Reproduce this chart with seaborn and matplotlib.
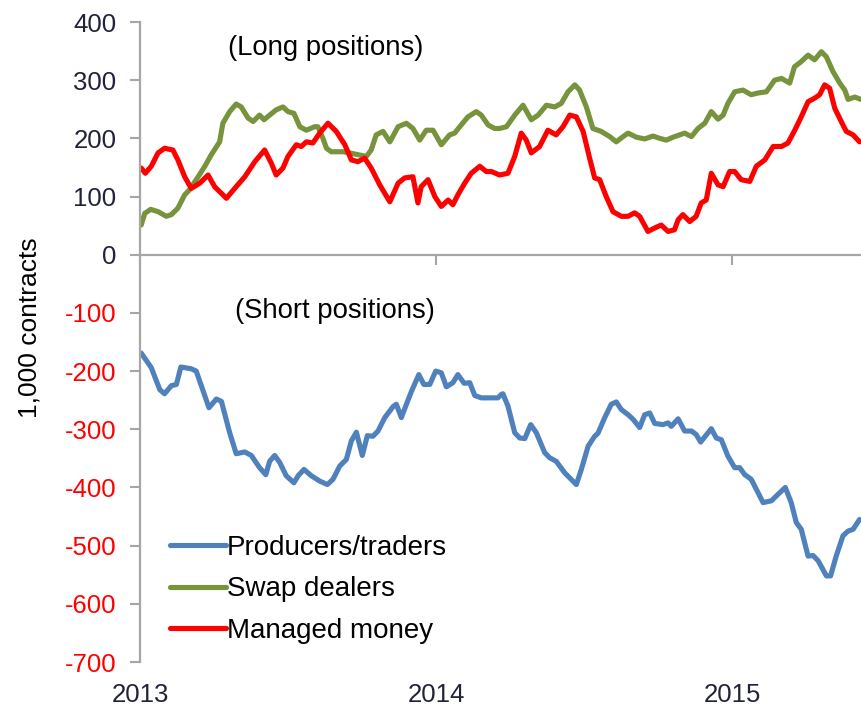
import numpy as np
import pandas as pd
import matplotlib
matplotlib.use("Agg")
import matplotlib.pyplot as plt
import seaborn as sns
from matplotlib.lines import Line2D

# ---------------- data (decimal years, thousand contracts) ----------------
prod_t = [2013.004, 2013.038, 2013.067, 2013.083, 2013.106, 2013.123, 2013.138, 2013.173, 2013.190,
          2013.233, 2013.258, 2013.275, 2013.303, 2013.325, 2013.354, 2013.376, 2013.404, 2013.425,
          2013.438, 2013.455, 2013.472, 2013.494, 2013.520, 2013.534, 2013.554, 2013.579, 2013.607,
          2013.633, 2013.652, 2013.675, 2013.697, 2013.714, 2013.731, 2013.751, 2013.768, 2013.787,
          2013.804, 2013.827, 2013.855, 2013.866, 2013.883, 2013.900, 2013.917, 2013.942, 2013.959,
          2013.979, 2013.999, 2014.018, 2014.035, 2014.057, 2014.074, 2014.095, 2014.114, 2014.131,
          2014.153, 2014.209, 2014.221, 2014.226, 2014.243, 2014.266, 2014.283, 2014.300, 2014.320,
          2014.339, 2014.367, 2014.384, 2014.406, 2014.435, 2014.474, 2014.491, 2014.514, 2014.536,
          2014.547, 2014.570, 2014.592, 2014.609, 2014.626, 2014.649, 2014.666, 2014.688, 2014.705,
          2014.722, 2014.739, 2014.767, 2014.784, 2014.795, 2014.818, 2014.840, 2014.863, 2014.879,
          2014.894, 2014.930, 2014.947, 2014.964, 2014.986, 2015.009, 2015.026, 2015.043, 2015.065,
          2015.082, 2015.105, 2015.133, 2015.155, 2015.180, 2015.200, 2015.217, 2015.234, 2015.257,
          2015.274, 2015.291, 2015.319, 2015.333, 2015.352, 2015.375, 2015.392, 2015.409, 2015.431]
prod_v = [-169, -194, -232, -239, -225, -223, -193, -196, -200, -263, -248, -252, -306, -342, -339,
          -345, -366, -378, -355, -345, -357, -380, -392, -380, -369, -380, -389, -395, -386, -363,
          -352, -320, -305, -345, -311, -312, -303, -280, -261, -257, -280, -257, -235, -206, -223,
          -223, -200, -203, -227, -220, -206, -221, -220, -242, -246, -246, -240, -239, -260, -306,
          -315, -316, -292, -306, -340, -349, -355, -375, -395, -369, -329, -312, -307, -280, -257,
          -253, -266, -275, -283, -297, -275, -272, -290, -292, -289, -295, -282, -303, -303, -309,
          -322, -299, -315, -318, -346, -366, -366, -378, -386, -403, -426, -423, -412, -400, -426,
          -460, -472, -518, -517, -526, -552, -552, -518, -483, -475, -472, -455]

swap_t = [2013.004, 2013.016, 2013.036, 2013.061, 2013.089, 2013.106, 2013.128, 2013.151, 2013.168,
          2013.190, 2013.219, 2013.241, 2013.269, 2013.280, 2013.303, 2013.325, 2013.342, 2013.365,
          2013.382, 2013.404, 2013.419, 2013.438, 2013.460, 2013.483, 2013.500, 2013.520, 2013.540,
          2013.562, 2013.590, 2013.601, 2013.618, 2013.630, 2013.646, 2013.686, 2013.708, 2013.736,
          2013.765, 2013.781, 2013.798, 2013.821, 2013.844, 2013.872, 2013.900, 2013.922, 2013.945,
          2013.967, 2013.990, 2014.018, 2014.046, 2014.063, 2014.085, 2014.108, 2014.136, 2014.153,
          2014.176, 2014.198, 2014.215, 2014.238, 2014.266, 2014.294, 2014.322, 2014.345, 2014.373,
          2014.401, 2014.423, 2014.446, 2014.469, 2014.485, 2014.508, 2014.530, 2014.558, 2014.587,
          2014.609, 2014.632, 2014.649, 2014.677, 2014.705, 2014.733, 2014.756, 2014.778, 2014.801,
          2014.823, 2014.840, 2014.863, 2014.885, 2014.908, 2014.930, 2014.953, 2014.970, 2014.986,
          2015.009, 2015.037, 2015.065, 2015.088, 2015.116, 2015.144, 2015.167, 2015.195, 2015.211,
          2015.234, 2015.257, 2015.279, 2015.302, 2015.319, 2015.341, 2015.364, 2015.381, 2015.392,
          2015.415, 2015.435]
swap_v = [51, 71, 78, 74, 66, 69, 80, 103, 112, 129, 152, 172, 194, 226, 246, 259, 254, 235, 229,
          240, 232, 240, 249, 254, 246, 243, 220, 214, 220, 220, 200, 183, 177, 177, 175, 172, 169,
          180, 206, 212, 194, 220, 226, 217, 197, 214, 214, 189, 206, 209, 223, 237, 246, 240, 223,
          217, 217, 220, 240, 257, 232, 240, 257, 254, 260, 280, 292, 283, 254, 217, 212, 203, 194,
          203, 209, 202, 199, 204, 200, 197, 202, 206, 209, 203, 217, 226, 246, 233, 240, 260, 280,
          283, 275, 278, 280, 300, 303, 295, 323, 332, 343, 335, 349, 340, 315, 295, 283, 267, 271,
          267]

mm_t = [2013.004, 2013.018, 2013.038, 2013.061, 2013.083, 2013.111, 2013.128, 2013.151, 2013.173,
        2013.202, 2013.230, 2013.252, 2013.292, 2013.320, 2013.354, 2013.388, 2013.421, 2013.444,
        2013.460, 2013.483, 2013.500, 2013.528, 2013.545, 2013.562, 2013.584, 2013.607, 2013.635,
        2013.663, 2013.692, 2013.714, 2013.736, 2013.759, 2013.781, 2013.810, 2013.844, 2013.872,
        2013.894, 2013.922, 2013.939, 2013.950, 2013.973, 2013.996, 2014.018, 2014.041, 2014.057,
        2014.074, 2014.097, 2014.119, 2014.148, 2014.170, 2014.187, 2014.215, 2014.243, 2014.266,
        2014.288, 2014.305, 2014.322, 2014.350, 2014.378, 2014.406, 2014.429, 2014.452, 2014.474,
        2014.497, 2014.519, 2014.536, 2014.553, 2014.575, 2014.598, 2014.626, 2014.649, 2014.671,
        2014.688, 2014.716, 2014.739, 2014.761, 2014.784, 2014.806, 2014.818, 2014.834, 2014.857,
        2014.879, 2014.896, 2014.913, 2014.930, 2014.953, 2014.970, 2014.992, 2015.009, 2015.031,
        2015.060, 2015.082, 2015.111, 2015.139, 2015.167, 2015.189, 2015.212, 2015.234, 2015.257,
        2015.279, 2015.296, 2015.313, 2015.330, 2015.347, 2015.369, 2015.386, 2015.409, 2015.431]
mm_v = [149, 140, 152, 175, 183, 180, 163, 134, 114, 123, 137, 117, 97, 114, 134, 160, 180, 157,
        137, 149, 169, 189, 186, 194, 192, 209, 226, 212, 189, 163, 160, 166, 149, 120, 91, 123,
        132, 134, 89, 117, 129, 100, 83, 94, 86, 103, 123, 140, 152, 143, 143, 137, 140, 169, 209,
        197, 175, 186, 214, 206, 220, 240, 237, 212, 166, 132, 129, 100, 74, 66, 66, 72, 66, 40,
        46, 51, 40, 43, 60, 69, 57, 66, 89, 94, 140, 120, 117, 143, 143, 129, 126, 152, 163, 186,
        186, 192, 214, 237, 263, 269, 275, 292, 286, 252, 229, 212, 206, 194]

series_names = ["Producers/traders", "Swap dealers", "Managed money"]
series_colors = ["#4F81BD", "#77933C", "#FF0000"]
yticks = list(range(-700, 401, 100))
xticks = [2013, 2014, 2015]
ylabel = "1,000 contracts"
long_label = "(Long positions)"
short_label = "(Short positions)"

df = pd.concat([
    pd.DataFrame({"t": prod_t, "v": prod_v, "series": series_names[0]}),
    pd.DataFrame({"t": swap_t, "v": swap_v, "series": series_names[1]}),
    pd.DataFrame({"t": mm_t, "v": mm_v, "series": series_names[2]}),
], ignore_index=True)

# ---------------- figure ----------------
sns.set_theme(style="white")
plt.rcParams["font.family"] = ["Liberation Sans", "DejaVu Sans"]

W, H = 862, 711
fig = plt.figure(figsize=(W / 100, H / 100), dpi=100)
ax_l, ax_r, ax_top, ax_bot = 140, 862, 22, 662
ax = fig.add_axes([ax_l / W, 1 - ax_bot / H, (ax_r - ax_l) / W, (ax_bot - ax_top) / H])

palette = dict(zip(series_names, series_colors))
sns.lineplot(data=df, x="t", y="v", hue="series", hue_order=series_names, palette=palette,
             linewidth=3.7, sort=False, estimator=None, ax=ax, legend=False)

ax.set_xlim(2013, 2013 + (ax_r - ax_l) / 296)
ax.set_ylim(-700, 400)

spine_col = "#A6A6A6"
for s in ["top", "right"]:
    ax.spines[s].set_visible(False)
ax.spines["left"].set_color(spine_col)
ax.spines["left"].set_linewidth(1.6)
ax.spines["bottom"].set_color(spine_col)
ax.spines["bottom"].set_linewidth(1.6)
ax.spines["bottom"].set_position(("data", 0))

ax.set_yticks(yticks)
ax.set_yticklabels([str(v) for v in yticks])
ax.tick_params(axis="y", direction="out", length=7, width=1.5, color=spine_col,
               labelsize=18.5, pad=10, left=True)
for lab, v in zip(ax.get_yticklabels(), yticks):
    lab.set_color("#FF0000" if v < 0 else "#22223A")

ax.set_xticks(xticks)
ax.set_xticklabels([str(x) for x in xticks])
ax.tick_params(axis="x", direction="out", length=7, width=1.5, color=spine_col,
               labelsize=18.5, pad=301, labelcolor="#22223A", bottom=True)

ax.set_xlabel("")
ax.set_ylabel("")
ax.grid(False)

fig.text(30 / W, 1 - 328 / H, ylabel, rotation=90, ha="center", va="center", fontsize=19,
         color="black")

ax.text((228 - ax_l) / (ax_r - ax_l), (ax_bot - 48) / (ax_bot - ax_top), long_label,
        transform=ax.transAxes, ha="left", va="center", fontsize=19.8, color="black")
ax.text((235 - ax_l) / (ax_r - ax_l), (ax_bot - 311) / (ax_bot - ax_top), short_label,
        transform=ax.transAxes, ha="left", va="center", fontsize=19.8, color="black")

handles = [Line2D([0], [0], color=c, lw=3.7) for c in series_colors]
fig.legend(handles, series_names, loc="upper left", bbox_to_anchor=(170 / W, 1 - 535 / H),
           bbox_transform=fig.transFigure, frameon=False, fontsize=20, handlelength=2.0,
           handletextpad=0.05, labelspacing=0.55, borderpad=0, borderaxespad=0,
           labelcolor="black")

fig.savefig("out.png", dpi=100)
